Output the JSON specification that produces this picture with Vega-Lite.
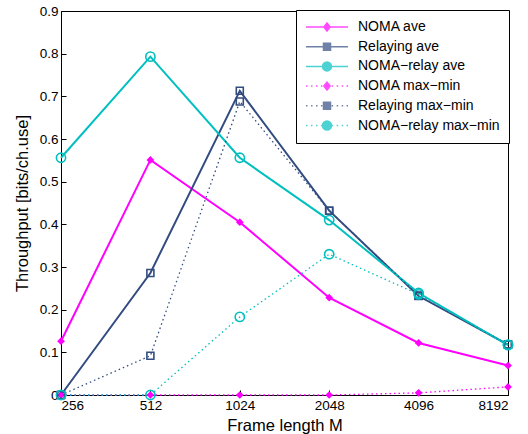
{
  "$schema": "https://vega.github.io/schema/vega-lite/v6.json",
  "width": 447,
  "height": 384,
  "autosize": {"type": "none"},
  "padding": {"left": 61, "top": 11, "right": 20, "bottom": 39},
  "background": "white",
  "config": {
    "font": "Liberation Sans",
    "view": {"stroke": "black", "strokeWidth": 1},
    "axis": {
      "grid": false,
      "domainColor": "black",
      "domainWidth": 1,
      "tickColor": "black",
      "tickWidth": 1,
      "tickSize": -5,
      "labelColor": "black",
      "titleColor": "black",
      "labelFont": "Liberation Sans",
      "titleFont": "Liberation Sans",
      "labelFontSize": 13.5,
      "titleFontSize": 16.5,
      "titleFontWeight": "normal"
    }
  },
  "data": {
    "values": [
      {"M": 256, "s": "NOMA ave", "v": 0.126},
      {"M": 512, "s": "NOMA ave", "v": 0.551},
      {"M": 1024, "s": "NOMA ave", "v": 0.405},
      {"M": 2048, "s": "NOMA ave", "v": 0.228},
      {"M": 4096, "s": "NOMA ave", "v": 0.122},
      {"M": 8192, "s": "NOMA ave", "v": 0.069},
      {"M": 256, "s": "Relaying ave", "v": 0},
      {"M": 512, "s": "Relaying ave", "v": 0.286},
      {"M": 1024, "s": "Relaying ave", "v": 0.713},
      {"M": 2048, "s": "Relaying ave", "v": 0.432},
      {"M": 4096, "s": "Relaying ave", "v": 0.232},
      {"M": 8192, "s": "Relaying ave", "v": 0.118},
      {"M": 256, "s": "NOMA−relay ave", "v": 0.556},
      {"M": 512, "s": "NOMA−relay ave", "v": 0.793},
      {"M": 1024, "s": "NOMA−relay ave", "v": 0.556},
      {"M": 2048, "s": "NOMA−relay ave", "v": 0.41},
      {"M": 4096, "s": "NOMA−relay ave", "v": 0.239},
      {"M": 8192, "s": "NOMA−relay ave", "v": 0.117},
      {"M": 256, "s": "NOMA max−min", "v": 0},
      {"M": 512, "s": "NOMA max−min", "v": 0},
      {"M": 1024, "s": "NOMA max−min", "v": 0},
      {"M": 2048, "s": "NOMA max−min", "v": 0},
      {"M": 4096, "s": "NOMA max−min", "v": 0.005},
      {"M": 8192, "s": "NOMA max−min", "v": 0.019},
      {"M": 256, "s": "Relaying max−min", "v": 0},
      {"M": 512, "s": "Relaying max−min", "v": 0.092},
      {"M": 1024, "s": "Relaying max−min", "v": 0.688},
      {"M": 2048, "s": "Relaying max−min", "v": 0.432},
      {"M": 4096, "s": "Relaying max−min", "v": 0.233},
      {"M": 8192, "s": "Relaying max−min", "v": 0.118},
      {"M": 256, "s": "NOMA−relay max−min", "v": 0},
      {"M": 512, "s": "NOMA−relay max−min", "v": 0},
      {"M": 1024, "s": "NOMA−relay max−min", "v": 0.183},
      {"M": 2048, "s": "NOMA−relay max−min", "v": 0.33},
      {"M": 4096, "s": "NOMA−relay max−min", "v": 0.236},
      {"M": 8192, "s": "NOMA−relay max−min", "v": 0.118}
    ]
  },
  "encoding": {
    "x": {"field": "M", "type": "quantitative", "scale": {"type": "log", "base": 2, "domain": [256, 8192], "nice": false},
      "axis": {"title": "Frame length M", "values": [256, 512, 1024, 2048, 4096, 8192], "format": "d", "labelPadding": 8, "titleY": 35, "titleBaseline": "alphabetic"}},
    "y": {"field": "v", "type": "quantitative", "scale": {"domain": [0, 0.9], "nice": false, "zero": false},
      "axis": {"title": "Throughput [bits/ch.use]", "values": [0, 0.1, 0.2, 0.3, 0.4, 0.5, 0.6, 0.7, 0.8, 0.9], "format": ".1~f", "labelPadding": 8, "titleX": -30.5, "titleBaseline": "bottom"}},
    "color": {
      "field": "s",
      "type": "nominal",
      "scale": {
        "domain": ["NOMA ave", "Relaying ave", "NOMA−relay ave", "NOMA max−min", "Relaying max−min", "NOMA−relay max−min"],
        "range": ["#ff00ff", "#334c80", "#00bfbf", "#ff00ff", "#334c80", "#00bfbf"]
      },
      "legend": {
        "title": null,
        "orient": "top-right",
        "offset": -1,
        "fillColor": "white",
        "strokeColor": "black",
        "padding": 9,
        "symbolSize": 1764,
        "labelFont": "Liberation Sans",
        "labelFontSize": 14,
        "labelColor": "black",
        "labelOffset": 9,
        "labelLimit": 300,
        "clipHeight": 16,
        "rowPadding": 3.7
      }
    }
  },
  "layer": [
    {
      "mark": {"type": "point", "filled": false, "size": 0, "strokeWidth": 1.8},
      "encoding": {
        "shape": {
          "field": "s",
          "type": "nominal",
          "scale": {
            "domain": ["NOMA ave", "Relaying ave", "NOMA−relay ave", "NOMA max−min", "Relaying max−min", "NOMA−relay max−min"],
            "range": [
              "M-1,0H1M0,-0.19L0.15,0L0,0.19L-0.15,0Z",
              "M-1,0H1M-0.167,-0.167H0.167V0.167H-0.167Z",
              "M-1,0H1M0.214,0A0.214,0.214,0,1,1,-0.214,0A0.214,0.214,0,1,1,0.214,0Z",
              "M-1,0h0.07M-0.76,0h0.07M-0.52,0h0.07M-0.29,0h0.07M0.22,0h0.07M0.46,0h0.07M0.7,0h0.07M0.93,0h0.07M0,-0.19L0.15,0L0,0.19L-0.15,0Z",
              "M-1,0h0.07M-0.76,0h0.07M-0.52,0h0.07M-0.29,0h0.07M0.22,0h0.07M0.46,0h0.07M0.7,0h0.07M0.93,0h0.07M-0.167,-0.167H0.167V0.167H-0.167Z",
              "M-1,0h0.07M-0.76,0h0.07M-0.52,0h0.07M-0.29,0h0.07M0.22,0h0.07M0.46,0h0.07M0.7,0h0.07M0.93,0h0.07M0.214,0A0.214,0.214,0,1,1,-0.214,0A0.214,0.214,0,1,1,0.214,0Z"
            ]
          },
          "legend": {
            "title": null,
            "orient": "top-right",
            "offset": -1,
            "fillColor": "white",
            "strokeColor": "black",
            "padding": 9,
            "symbolSize": 1764,
            "labelFont": "Liberation Sans",
            "labelFontSize": 14,
            "labelColor": "black",
            "labelOffset": 9,
            "labelLimit": 300,
            "clipHeight": 16,
            "rowPadding": 3.7
          }
        }
      }
    },
    {
      "transform": [{"filter": "indexof(datum.s,'ave')>=0"}],
      "mark": {"type": "line", "strokeWidth": 2}
    },
    {
      "transform": [{"filter": "indexof(datum.s,'max')>=0"}],
      "mark": {"type": "line", "strokeWidth": 1.3, "strokeDash": [1.5, 3]}
    },
    {
      "transform": [{"filter": "indexof(datum.s,'NOMA ')===0"}],
      "mark": {"type": "point", "shape": "diamond", "filled": true, "size": 60, "opacity": 1}
    },
    {
      "transform": [{"filter": "indexof(datum.s,'Relaying')===0"}],
      "mark": {"type": "point", "shape": "square", "filled": false, "size": 49, "strokeWidth": 1.6, "opacity": 1}
    },
    {
      "transform": [{"filter": "indexof(datum.s,'NOMA−relay')===0"}],
      "mark": {"type": "point", "shape": "circle", "filled": false, "size": 85, "strokeWidth": 1.6, "opacity": 1}
    }
  ]
}
